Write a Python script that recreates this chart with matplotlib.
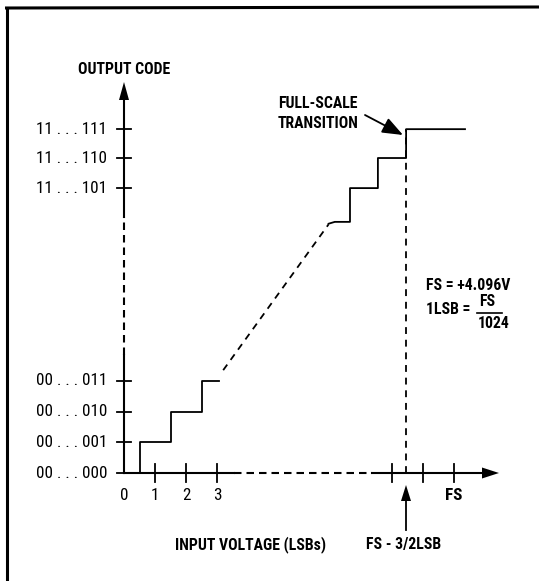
import matplotlib
matplotlib.use('Agg')
import matplotlib.pyplot as plt
from matplotlib import font_manager as fm
from matplotlib.patches import Polygon

names = {f.name for f in fm.fontManager.ttflist}
FONT = next((n for n in ['Liberation Sans Narrow', 'Roboto Condensed', 'DejaVu Sans Condensed',
                         'Liberation Sans'] if n in names), 'DejaVu Sans')
plt.rcParams['font.family'] = [FONT, 'DejaVu Sans']

# ---------------- data (drawing units: x in LSBs, y in output codes) ----------------
fs = 10.65                       # full-scale position on the x axis
code_levels = [0, 1, 2, 3, 9.28, 10.26, 11.2]
code_labels = ['00 . . . 000', '00 . . . 001', '00 . . . 010', '00 . . . 011',
               '11 . . . 101', '11 . . . 110', '11 . . . 111']
x_ticks = [1, 2, 3, fs - 2, fs - 1, fs]
x_tick_labels = ['1', '2', '3', '', '', 'FS']
low_x = [0, 0.5, 0.5, 1.5, 1.5, 2.5, 2.5, 3.05]
low_y = [0, 0, 1, 1, 2, 2, 3, 3]
diag_x = [3.2, 6.6]
diag_y = [3.35, 8.1]
high_x = [6.6, 6.8, 7.29, 7.29, 8.19, 8.19, 9.1, 9.1, 11.0]
high_y = [8.12, 8.18, 8.18, 9.28, 9.28, 10.26, 10.26, 11.2, 11.2]
transition_x = 9.1

# ---------------- figure ----------------
W, H = 539, 581
X0, Y0, SX, SY = 124, 473, 31.0, 30.7
fig = plt.figure(figsize=(W / 100, H / 100), dpi=100)
ax = fig.add_axes([0, 0, 1, 1])
ax.set_xlim(-X0 / SX, (W - X0) / SX)
ax.set_ylim((Y0 - H) / SY, Y0 / SY)
ax.axis('off')


def P(px, py):
    return ((px - X0) / SX, (Y0 - py) / SY)


def head(tip, direction, length=16, width=10):
    tx, ty = tip
    if direction == 'right':
        pts = [(tx, ty), (tx - length, ty - width / 2), (tx - length, ty + width / 2)]
    else:  # up
        pts = [(tx, ty), (tx - width / 2, ty + length), (tx + width / 2, ty + length)]
    ax.add_patch(Polygon([P(*p) for p in pts], closed=True, color='black', lw=0))


K = 'black'
AX_LW = 1.5
DASH = (3.6, 2.4)
LBL = 11.3
TCK = 12.3

# frame (left and top)
ax.plot(*zip(P(7, 7), P(7, 581)), color=K, lw=2.2, solid_capstyle='butt')
ax.plot(*zip(P(5, 8), P(539, 7)), color=K, lw=2.2, solid_capstyle='butt')

# x axis
ax.plot([0, 3.55], [0, 0], color=K, lw=AX_LW)
ax.plot([3.55, 8.0], [0, 0], color=K, lw=AX_LW, dashes=DASH)
ax.plot([8.0, (484 - X0) / SX], [0, 0], color=K, lw=AX_LW)
head((499, Y0), 'right', length=17, width=11)

# y axis
ax.plot([0, 0], [0, 3.84], color=K, lw=AX_LW)
ax.plot([0, 0], [3.84, 8.34], color=K, lw=AX_LW, dashes=DASH)
ax.plot([0, 0], [8.34, (Y0 - 96) / SY], color=K, lw=AX_LW)
head((X0, 82), 'up', length=18, width=10)

# ticks
for y in code_levels:
    ax.plot([-7 / SX, 7 / SX], [y, y], color=K, lw=1.3)
for x in x_ticks:
    ax.plot([x, x], [-9 / SY, 9 / SY], color=K, lw=1.3)

# tick labels
for y, lab in zip(code_levels, code_labels):
    ax.text((107 - X0) / SX, y, lab, ha='right', va='center', fontsize=TCK)
ax.text(0, (Y0 - 496) / SY, '0', ha='center', va='center', fontsize=TCK)
for x, lab in zip(x_ticks, x_tick_labels):
    if lab:
        ax.text(x, (Y0 - 496) / SY, lab, ha='center', va='center', fontsize=TCK,
                fontweight='bold' if lab == 'FS' else 'normal')

# transfer function
ax.plot(low_x, low_y, color=K, lw=1.3)
ax.plot(diag_x, diag_y, color=K, lw=1.3, dashes=(3.8, 3.2))
ax.plot(high_x, high_y, color=K, lw=1.3)
ax.plot([transition_x, transition_x], [0, high_y[-2]], color=K, lw=1.3, dashes=(3.8, 3.2))

# labels
ax.text(*P(124, 69), 'OUTPUT CODE', ha='center', va='center', fontsize=LBL, fontweight='bold')
ax.text(*P(251, 545), 'INPUT VOLTAGE (LSBs)', ha='center', va='center', fontsize=LBL,
        fontweight='bold')
ax.text(*P(404, 545), 'FS - 3/2LSB', ha='center', va='center', fontsize=LBL, fontweight='bold')
ax.plot(*zip(P(406, 530), P(406, 500)), color=K, lw=1.3)
head((406, 485), 'up', length=16, width=10)

ax.text(*P(358, 103), 'FULL-SCALE', ha='right', va='center', fontsize=LBL, fontweight='bold')
ax.text(*P(358, 123), 'TRANSITION', ha='right', va='center', fontsize=LBL, fontweight='bold')
ax.annotate('', xy=P(403, 135), xytext=P(365, 115),
            arrowprops=dict(arrowstyle='-|>,head_length=0.9,head_width=0.35', color=K,
                            lw=1.3, shrinkA=0, shrinkB=0, mutation_scale=14))

ax.text(*P(426, 285), 'FS = +4.096V', ha='left', va='center', fontsize=LBL, fontweight='bold')
ax.text(*P(426, 310), '1LSB =', ha='left', va='center', fontsize=LBL, fontweight='bold')
ax.text(*P(487, 302), 'FS', ha='center', va='center', fontsize=LBL, fontweight='bold')
ax.plot(*zip(P(477, 313), P(502, 313)), color=K, lw=1.2)
ax.text(*P(494, 324), '1024', ha='center', va='center', fontsize=LBL, fontweight='bold')

fig.savefig('out.png', dpi=100, facecolor='white')
